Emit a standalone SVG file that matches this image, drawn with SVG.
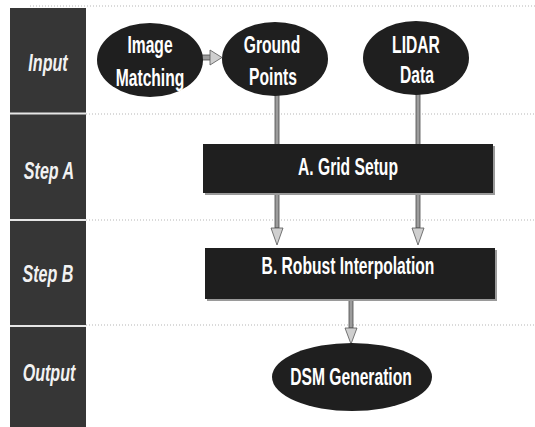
<svg xmlns="http://www.w3.org/2000/svg" width="535" height="427" viewBox="0 0 535 427">
<style>
.lane{fill:#363636}
.sep{stroke:#e6e6e6;stroke-width:2}
.dot{stroke:#b5b5b5;stroke-width:1;stroke-dasharray:1 2;fill:none}
.node{fill:#1f1f1f}
.shadow{fill:#9a9a9a}
.t{font-family:"Liberation Sans",Arial,sans-serif;font-weight:bold;font-size:23px;fill:#fff;text-anchor:middle}
.li{font-style:italic;fill:#f2f2f2}
.shaft{fill:#9c9c9c;stroke:#4a4a4a;stroke-width:0.8}
.head{fill:#cfcfcf;stroke:#555;stroke-width:0.8}
</style>
<rect width="535" height="427" fill="#fff"/>
<g id="lanes">
<rect class="lane" x="10" y="8" width="76" height="419"/>
<line class="sep" x1="10" y1="113.5" x2="86" y2="113.5"/>
<line class="sep" x1="10" y1="220" x2="86" y2="220"/>
<line class="sep" x1="10" y1="326" x2="86" y2="326"/>
<line class="dot" x1="30" y1="6" x2="535" y2="6"/>
<line class="dot" x1="86" y1="114" x2="535" y2="114"/>
<line class="dot" x1="86" y1="220" x2="535" y2="220"/>
<line class="dot" x1="86" y1="325" x2="535" y2="325"/>
<text class="t li" transform="translate(48,71) scale(0.7,1)">Input</text>
<text class="t li" transform="translate(49,179) scale(0.7,1)">Step A</text>
<text class="t li" transform="translate(48,282) scale(0.7,1)">Step B</text>
<text class="t li" transform="translate(49,381) scale(0.7,1)">Output</text>
</g>
<g id="connectors">
<rect class="shaft" x="200" y="55" width="11" height="5"/>
<polygon class="head" points="210,50 222,57.5 210,65"/>
<rect class="shaft" x="275" y="94" width="4" height="134"/>
<polygon class="head" points="271,228 283,228 277,245"/>
<rect class="shaft" x="416" y="94" width="4" height="134"/>
<polygon class="head" points="412,228 424,228 418,245"/>
<rect class="shaft" x="349" y="298" width="4" height="30"/>
<polygon class="head" points="345,328 357,328 351,344"/>
</g>
<g id="image-matching">
<ellipse class="node" cx="150" cy="60" rx="53" ry="37"/>
<text class="t" transform="translate(150,53) scale(0.68,1)">Image</text>
<text class="t" transform="translate(150,86) scale(0.68,1)">Matching</text>
</g>
<g id="ground-points">
<ellipse class="node" cx="275" cy="59" rx="53" ry="37"/>
<text class="t" transform="translate(272,53) scale(0.68,1)">Ground</text>
<text class="t" transform="translate(273,85) scale(0.68,1)">Points</text>
</g>
<g id="lidar-data">
<ellipse class="node" cx="416" cy="58" rx="53" ry="37"/>
<text class="t" transform="translate(416,53) scale(0.68,1)">LIDAR</text>
<text class="t" transform="translate(417,83) scale(0.68,1)">Data</text>
</g>
<g id="grid-setup">
<rect class="shadow" x="205" y="146" width="290" height="49"/>
<rect class="node" x="203" y="144" width="290" height="49"/>
<text class="t" transform="translate(348,175) scale(0.68,1)">A. Grid Setup</text>
</g>
<g id="robust-interpolation">
<rect class="shadow" x="207" y="250" width="290" height="51"/>
<rect class="node" x="205" y="248" width="290" height="51"/>
<text class="t" transform="translate(348,274) scale(0.68,1)">B. Robust Interpolation</text>
</g>
<g id="dsm-generation">
<ellipse class="node" cx="352" cy="377" rx="80" ry="34"/>
<text class="t" transform="translate(351,385) scale(0.68,1)">DSM Generation</text>
</g>
</svg>
